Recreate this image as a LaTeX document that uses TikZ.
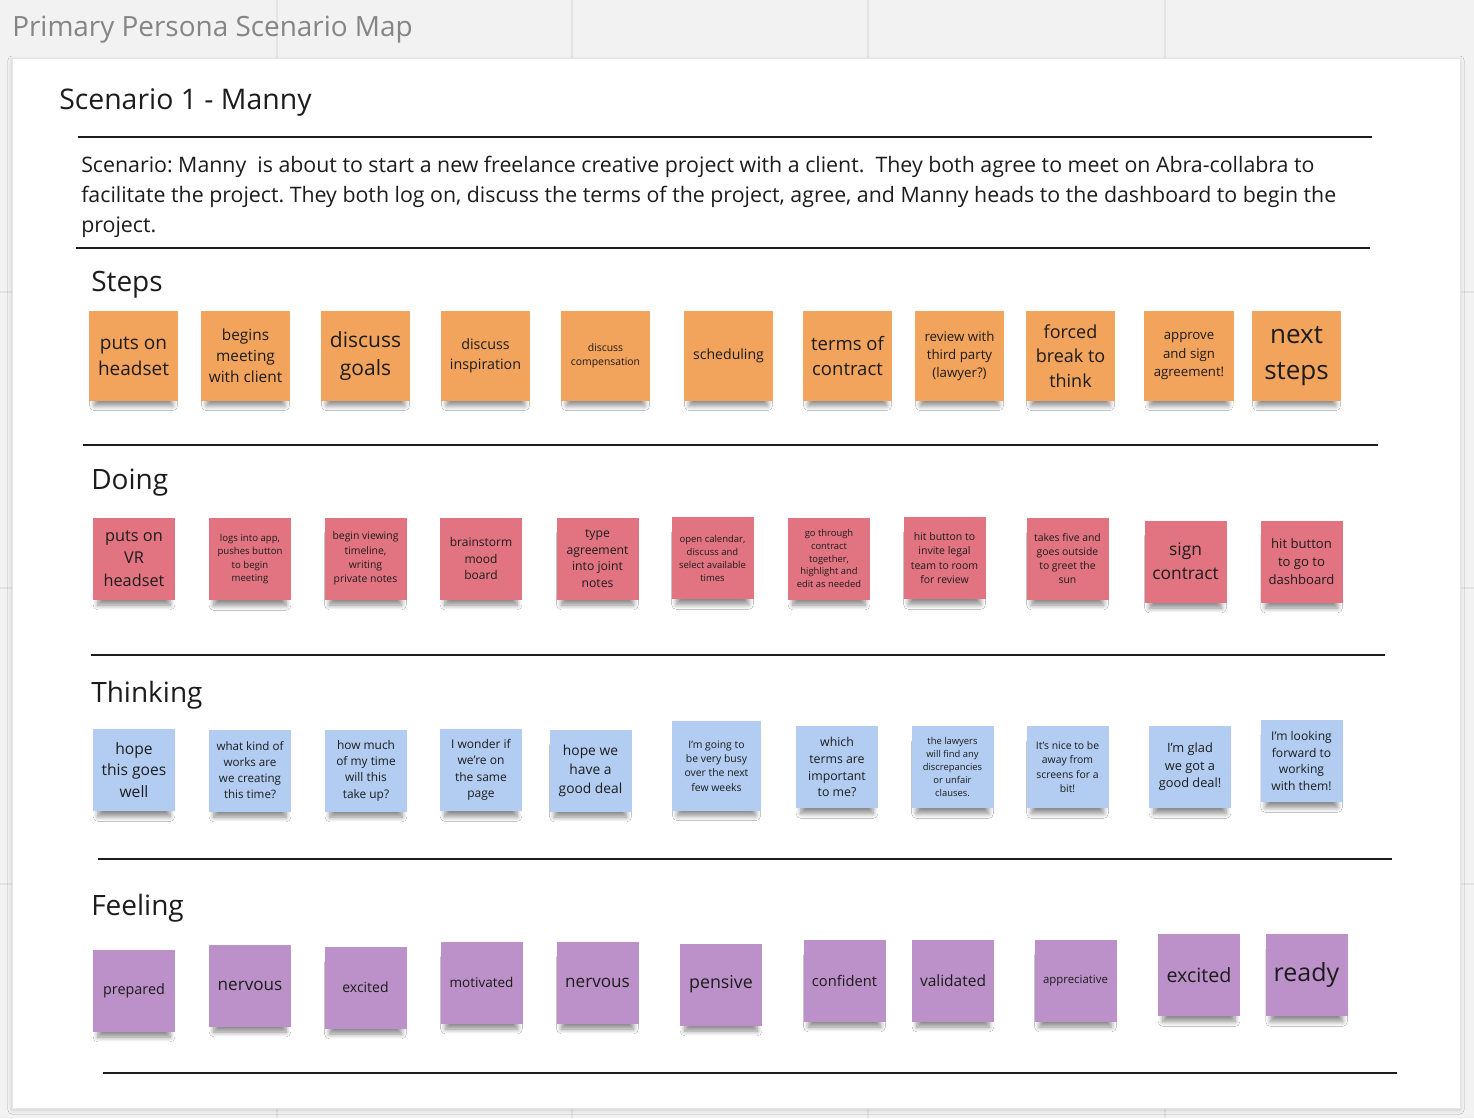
\documentclass[tikz,border=0pt]{standalone}
\usepackage{fontspec}
\setmainfont{Open Sans}
\usetikzlibrary{shadows.blur}
\definecolor{bgcol}{HTML}{F2F2F2}
\definecolor{gridcol}{HTML}{E3E3E3}
\definecolor{titlecol}{HTML}{858585}
\definecolor{inkcol}{HTML}{1C1C1C}
\definecolor{stepcol}{HTML}{F2A35C}
\definecolor{doingcol}{HTML}{E27482}
\definecolor{thinkcol}{HTML}{B2CDF1}
\definecolor{feelcol}{HTML}{BC90C8}
\frenchspacing

\begin{document}
\begin{tikzpicture}[x=0.75pt, y=-0.75pt,
    fs/.style={font=\pgfmathsetmacro\fsz{#1*0.75}\pgfmathsetmacro\fsk{#1*1.03}\fontsize{\fsz pt}{\fsk pt}\selectfont},
    sticky/.style={inner sep=0pt, align=center, text=inkcol, minimum width=61.5pt, minimum height=61.5pt,
        blur shadow={shadow xshift=0pt, shadow yshift=-9pt, shadow scale=0.88, shadow blur radius=4pt, shadow blur steps=8, shadow opacity=45}},
    steps/.style={sticky, fill=stepcol, minimum width=67pt, minimum height=67pt},
    doing/.style={sticky, fill=doingcol},
    thinking/.style={sticky, fill=thinkcol},
    feeling/.style={sticky, fill=feelcol},
    rule/.style={line width=2pt, inkcol},
    heading/.style={anchor=base west, inner sep=0pt, text=inkcol, fs=28}
]
    \useasboundingbox (0,0) rectangle (1474,1118);
    \fill[bgcol] (0,0) rectangle (1474,1118);
    \foreach \gx in {277,572,868,1165} \draw[gridcol, line width=1pt] (\gx,0) -- (\gx,1118);
    \foreach \gy in {292,588,884} \draw[gridcol, line width=1pt] (0,\gy) -- (1474,\gy);
    \node[anchor=base west, inner sep=0pt, fs=27.9, text=titlecol] (title) at (12,36) {Primary Persona Scenario Map};

    % card
    \fill[white, draw=gray!20, line width=0.75pt, blur shadow={shadow xshift=0pt, shadow yshift=-1.5pt, shadow blur radius=3pt, shadow opacity=15}] (12,58) rectangle (1460,1108);

    \node[anchor=base west, inner sep=0pt, fs=28.4, text=inkcol] (scenhead) at (59,109) {Scenario 1 - Manny};
    \draw[rule] (78,137) -- (1372,137);
    \node[anchor=north west, inner sep=0pt, align=left, font=\fontsize{16pt}{22.5pt}\selectfont, text=inkcol] (scentext) at (81,156)
        {Scenario: Manny\ \ is about to start a new freelance creative project with a client.\ \ They both agree to meet on Abra-collabra to\\
         facilitate the project. They both log on, discuss the terms of the project, agree, and Manny heads to the dashboard to begin the\\
         project.};
    \draw[rule] (76,248) -- (1370,248);

    % steps
    \node[heading] (hsteps) at (91,291) {Steps};
    \node[steps, fs=19] (s1) at (133.5,356) {puts on\\headset};
    \node[steps, fs=15.4] (s2) at (245.5,356) {begins\\meeting\\with client};
    \node[steps, fs=21] (s3) at (365.5,356) {discuss\\goals};
    \node[steps, fs=14.3] (s4) at (485.5,356) {discuss\\inspiration};
    \node[steps, fs=10.4] (s5) at (605.5,356) {discuss\\compensation};
    \node[steps, fs=14.1] (s6) at (728.5,356) {scheduling};
    \node[steps, fs=18.5] (s7) at (847.5,356) {terms of\\contract};
    \node[steps, fs=13.3] (s8) at (959.5,356) {review with\\third party\\(lawyer?)};
    \node[steps, fs=18] (s9) at (1070.5,356) {forced\\break to\\think};
    \node[steps, fs=13.2] (s10) at (1189,356) {approve\\and sign\\agreement!};
    \node[steps, fs=26] (s11) at (1296.5,356) {next\\steps};
    \draw[rule] (83,445) -- (1378,445);

    % doing
    \node[heading] (hdoing) at (91,489) {Doing};
    \node[doing, fs=16.3] (d1) at (134,558.5) {puts on\\VR\\headset};
    \node[doing, fs=9.6] (d2) at (250,559) {logs into app,\\pushes button\\to begin\\meeting};
    \node[doing, fs=10.4] (d3) at (365.5,558.5) {begin viewing\\timeline,\\writing\\private notes};
    \node[doing, fs=12] (d4) at (481,558.5) {brainstorm\\mood\\board};
    \node[doing, fs=12.2] (d5) at (597.5,558.5) {type\\agreement\\into joint\\notes};
    \node[doing, fs=9.5] (d6) at (712.5,558) {open calendar,\\discuss and\\select available\\times};
    \node[doing, fs=9.4] (d7) at (829,558.5) {go through\\contract\\together,\\highlight and\\edit as needed};
    \node[doing, fs=10.5] (d8) at (944.5,558) {hit button to\\invite legal\\team to room\\for review};
    \node[doing, fs=10.4] (d9) at (1067.5,558.5) {takes five and\\goes outside\\to greet the\\sun};
    \node[doing, fs=17.4] (d10) at (1185.5,561.5) {sign\\contract};
    \node[doing, fs=13.1] (d11) at (1301.5,561.5) {hit button\\to go to\\dashboard};
    \draw[rule] (91,655) -- (1385,655);

    % thinking
    \node[heading] (hthinking) at (91,702) {Thinking};
    \node[thinking, fs=15.6] (t1) at (134,770) {hope\\this goes\\well};
    \node[thinking, fs=11.6] (t2) at (250,770.5) {what kind of\\works are\\we creating\\this time?};
    \node[thinking, fs=11.9] (t3) at (366,770.5) {how much\\of my time\\will this\\take up?};
    \node[thinking, fs=12] (t4) at (481,770) {I wonder if\\we're on\\the same\\page};
    \node[thinking, fs=13.8] (t5) at (590.5,770.5) {hope we\\have a\\good deal};
    \node[thinking, fs=10.4, minimum width=67pt, minimum height=67pt] (t6) at (716.5,766) {I'm going to\\be very busy\\over the next\\few weeks};
    \node[thinking, fs=12.3] (t7) at (837,767) {which\\terms are\\important\\to me?};
    \node[thinking, fs=9.4] (t8) at (952.5,767) {the lawyers\\will find any\\discrepancies\\or unfair\\clauses.};
    \node[thinking, fs=10.4] (t9) at (1067.5,767) {It's nice to be\\away from\\screens for a\\bit!};
    \node[thinking, fs=12.8] (t10) at (1190,767) {I'm glad\\we got a\\good deal!};
    \node[thinking, fs=12.1] (t11) at (1301.5,761) {I'm looking\\forward to\\working\\with them!};
    \draw[rule] (98,859) -- (1392,859);

    % feeling
    \node[heading] (hfeeling) at (91,915) {Feeling};
    \node[feeling, fs=14.4] (f1) at (134,990.5) {prepared};
    \node[feeling, fs=17.1] (f2) at (250,985.5) {nervous};
    \node[feeling, fs=14] (f3) at (365.5,987.5) {excited};
    \node[feeling, fs=13.5] (f4) at (481.5,982.5) {motivated};
    \node[feeling, fs=17.1] (f5) at (597.5,982.5) {nervous};
    \node[feeling, fs=17.8] (f6) at (721,984.5) {pensive};
    \node[feeling, fs=14.7] (f7) at (844.5,980.5) {confident};
    \node[feeling, fs=15.5] (f8) at (953,980.5) {validated};
    \node[feeling, fs=11.4] (f9) at (1075.5,980.5) {appreciative};
    \node[feeling, fs=19.7] (f10) at (1199,975) {excited};
    \node[feeling, fs=25] (f11) at (1306.5,975) {ready};
    \draw[rule] (103,1073) -- (1397,1073);

\end{tikzpicture}
\end{document}
